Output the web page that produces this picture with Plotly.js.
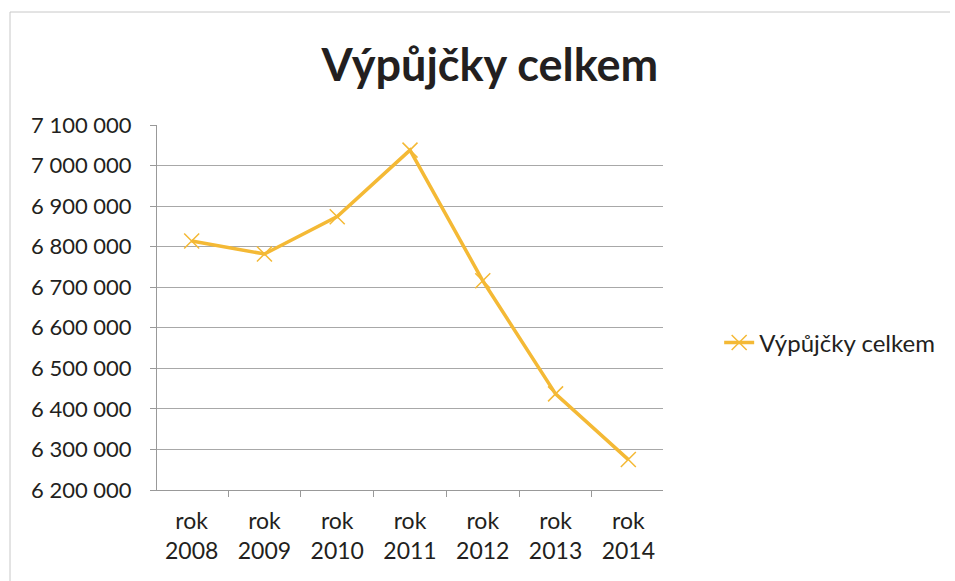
<!DOCTYPE html>
<html><head><meta charset="utf-8">
<script src="https://cdn.plot.ly/plotly-3.0.1.min.js"></script>
<style>html,body{margin:0;padding:0;background:#fff}#chart{width:955px;height:581px}</style>
</head><body><div id="chart"></div>
<script>
const categories = ["rok<br>2008","rok<br>2009","rok<br>2010","rok<br>2011","rok<br>2012","rok<br>2013","rok<br>2014"];
const values = [6814000, 6782000, 6874000, 7038000, 6716000, 6437000, 6275000];
const seriesName = "Výpůjčky celkem";
const titleText = "Výpůjčky celkem";
const yTicks = [6200000,6300000,6400000,6500000,6600000,6700000,6800000,6900000,7000000,7100000];

const font = "Lato, 'Open Sans', sans-serif";
const trace = {
  x: categories, y: values, name: seriesName, type: "scatter", mode: "lines+markers",
  line: {color: "#F4B935", width: 3.5},
  marker: {symbol: "x-thin", size: 15, line: {color: "#F4B935", width: 1.5}, color: "#F4B935"}
};
const layout = {
  width: 955, height: 581,
  margin: {l: 157, r: 292, t: 125, b: 91},
  paper_bgcolor: "#fff", plot_bgcolor: "#fff",
  separators: ", ",
  showlegend: true,
  title: {text: "<b>" + titleText + "</b>", font: {family: font, size: 45, color: "#231f20"}, x: 0.513, xanchor: "center", y: 0.888, yanchor: "middle"},
  legend: {x: 1.111, xanchor: "left", y: 0.403, yanchor: "middle", font: {family: font, size: 24, color: "#231f20"}, bgcolor: "rgba(0,0,0,0)", itemwidth: 30},
  xaxis: {type: "category", showgrid: false, showline: true, linecolor: "#999", linewidth: 1,
    ticks: "outside", tickson: "boundaries", ticklen: 6, tickcolor: "#999", ticklabelstandoff: 10,
    tickfont: {family: font, size: 23, color: "#231f20"}, fixedrange: true},
  yaxis: {range: [6200000, 7100000], tickvals: yTicks, tickformat: ",d", showgrid: true, gridcolor: "#a8a8a8", gridwidth: 1,
    showline: true, linecolor: "#999", linewidth: 1, ticks: "outside", ticklen: 6, tickcolor: "#999",
    ticklabelstandoff: 14, zeroline: false,
    tickfont: {family: font, size: 22, color: "#231f20"}, fixedrange: true},
  shapes: [
    {type: "line", xref: "paper", yref: "paper", x0: -147/506, x1: 793/506, y0: 1 + 113/365, y1: 1 + 113/365, line: {color: "#c8c8c8", width: 1}},
    {type: "line", xref: "paper", yref: "paper", x0: -147/506, x1: -147/506, y0: 1 + 113/365, y1: -91/365, line: {color: "#c8c8c8", width: 1}}]
};
Plotly.newPlot("chart", [trace], layout, {displayModeBar: false, staticPlot: true});
</script></body></html>
